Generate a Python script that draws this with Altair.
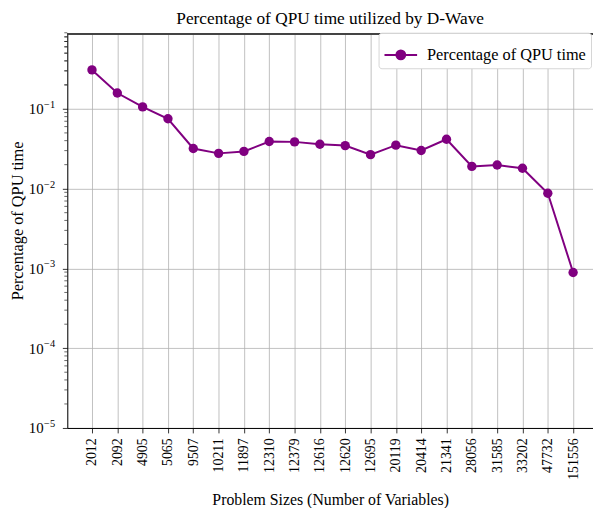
import altair as alt
import pandas as pd

# ---- data ----
sizes = ["2012", "2092", "4905", "5065", "9507", "10211", "11897", "12310",
         "12379", "12616", "12620", "12695", "20119", "20414", "21341",
         "28056", "31585", "33202", "47732", "151556"]
pct = [0.308, 0.158, 0.106, 0.0752, 0.0319, 0.0277, 0.0293, 0.0390,
       0.0386, 0.0360, 0.0347, 0.0267, 0.0351, 0.0301, 0.0416,
       0.0190, 0.0198, 0.0180, 0.00875, 0.00089]
series_name = ["Percentage of QPU time"]
major_ticks = [1e-5, 1e-4, 1e-3, 1e-2, 1e-1]
tick_base = ["10", "10", "10", "10", "10"]
tick_exp = ["\u22125", "\u22124", "\u22123", "\u22122", "\u22121"]
minor_ticks = [m * 10.0 ** k for k in range(-5, 0) for m in range(2, 10)] + \
              [0.2, 0.3, 0.4, 0.5, 0.6, 0.7, 0.8]

FONT = "Liberation Serif"
PURPLE = "#800080"
W, H = 532, 399
Y_DOMAIN = [1e-5, 0.877]

df = pd.DataFrame({"size": sizes, "pct": pct, "series": series_name * len(sizes)})
minor_df = pd.DataFrame({"pct": minor_ticks})
label_df = pd.DataFrame({"pct": major_ticks, "base": tick_base, "exp": tick_exp})

yscale = alt.Scale(type="log", domain=Y_DOMAIN, nice=False)
xscale = alt.Scale(type="point", padding=0.88, align=0.554)

legend_symbol = ("M-1,0L1,0M-0.27,0A0.27,0.27,0,1,1,0.27,0"
                 "A0.27,0.27,0,1,1,-0.27,0Z")

x_enc = alt.X("size:N", sort=sizes, scale=xscale,
              title="Problem Sizes (Number of Variables)",
              axis=alt.Axis(grid=True, labelAngle=270, labelFont=FONT, labelFontSize=14,
                            labelColor="black", tickColor="black", tickSize=5,
                            tickWidth=0.8, labelPadding=5, domainColor="black",
                            domainWidth=1, gridColor="#b0b0b0", gridWidth=0.8,
                            titleFont=FONT, titleFontSize=16,
                            titleFontWeight="normal", titleColor="black",
                            titleY=77, titleBaseline="alphabetic"))

y_enc = alt.Y("pct:Q", scale=yscale, title="Percentage of QPU time",
              axis=alt.Axis(grid=True, values=major_ticks, labels=False,
                            tickColor="black", tickSize=5, tickWidth=0.8,
                            domainColor="black", domainWidth=1,
                            gridColor="#b0b0b0", gridWidth=0.8,
                            titleFont=FONT, titleFontSize=16.5,
                            titleFontWeight="normal", titleColor="black",
                            titleX=-45, titleY=189, titleAngle=270,
                            titleBaseline="alphabetic", titleAlign="center"))

color_enc = alt.Color("series:N", scale=alt.Scale(range=[PURPLE]),
                      legend=alt.Legend(title=None, orient="none",
                                        legendX=315, legendY=-1,
                                        symbolType=legend_symbol,
                                        symbolSize=1089,
                                        symbolStrokeWidth=2,
                                        symbolFillColor=PURPLE,
                                        symbolStrokeColor=PURPLE,
                                        labelFont=FONT, labelFontSize=16.5,
                                        labelLimit=400,
                                        labelColor="black", labelOffset=9,
                                        padding=5, strokeColor="#d5d5d5",
                                        fillColor="white", cornerRadius=3))

base = alt.Chart(df)
line = base.mark_line(strokeWidth=2).encode(x=x_enc, y=y_enc, color=color_enc)
points = base.mark_point(filled=True, size=90, opacity=1).encode(
    x=x_enc, y=y_enc, color=color_enc)

minor = alt.Chart(minor_df).mark_rule(color="black", strokeWidth=0.6).encode(
    y=y_enc, x=alt.value(-3), x2=alt.value(0))

lab_base = alt.Chart(label_df).mark_text(
    font=FONT, fontSize=15, align="right", baseline="alphabetic", dy=5.5,
    color="black").encode(y=y_enc, x=alt.value(-24), text="base:N")
lab_exp = alt.Chart(label_df).mark_text(
    font=FONT, fontSize=10.5, align="left", baseline="alphabetic", dy=-1,
    color="black").encode(y=y_enc, x=alt.value(-23.5), text="exp:N")

top_spine = alt.Chart(df).mark_rule(color="#444444", strokeWidth=0.9).encode(
    x=alt.value(0), x2=alt.value(W), y=alt.value(0))

chart = alt.layer(minor, lab_base, lab_exp, line, points, top_spine).properties(
    width=W, height=H,
    title=alt.TitleParams("Percentage of QPU time utilized by D-Wave",
                          font=FONT, fontSize=17.5, fontWeight="normal",
                          color="black", anchor="middle", offset=5),
    autosize=alt.AutoSizeParams(type="none"),
    padding={"left": 60, "top": 23, "right": 0, "bottom": 78},
).configure_view(stroke=None).configure(background="white")

chart.save("out.html", embed_options={"renderer": "svg", "actions": False})
